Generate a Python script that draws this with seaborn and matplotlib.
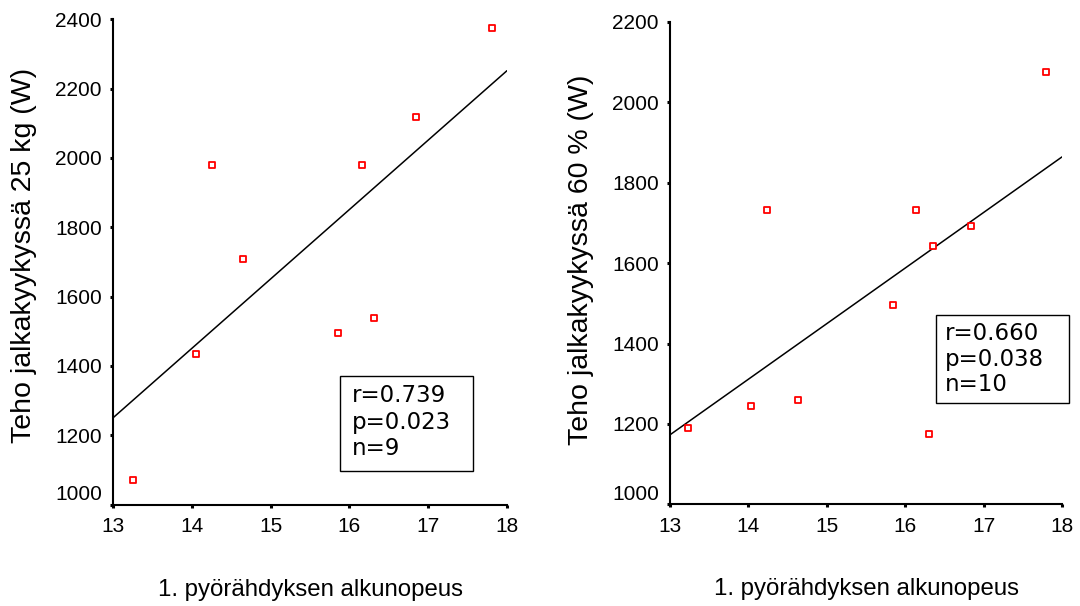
import numpy as np
import pandas as pd
import seaborn as sns
import matplotlib.pyplot as plt
from matplotlib.patches import Rectangle

# Initial speed of the first revolution vs. leg-press power
speed_25kg = [13.25, 14.05, 14.26, 14.65, 15.86, 16.16, 16.31, 16.85, 17.81]
power_25kg = [1070, 1434, 1980, 1709, 1494, 1980, 1537, 2119, 2375]

speed_60pct = [13.23, 14.03, 14.24, 14.63, 15.85, 16.14, 16.30, 16.35, 16.84, 17.79]
power_60pct = [1191, 1244, 1733, 1260, 1497, 1733, 1174, 1643, 1692, 2076]

stats_25kg = ["r=0.739", "p=0.023", "n=9"]
stats_60pct = ["r=0.660", "p=0.038", "n=10"]

x_label = "1. pyörähdyksen alkunopeus"
y_label_25kg = "Teho jalkakyykyssä 25 kg (W)"
y_label_60pct = "Teho jalkakyykyssä 60 % (W)"

x_ticks = [13, 14, 15, 16, 17, 18]
y_ticks_25kg = [1000, 1200, 1400, 1600, 1800, 2000, 2200, 2400]
y_ticks_60pct = [1000, 1200, 1400, 1600, 1800, 2000, 2200]

sns.set_style("ticks")
plt.rcParams["font.family"] = ["Liberation Sans", "DejaVu Sans"]

fig = plt.figure(figsize=(10.8, 6.06), dpi=100)
W, H = 1080, 606


def make_axes(x0, x1, ytop, ybot):
    return fig.add_axes([x0 / W, 1 - ybot / H, (x1 - x0) / W, (ybot - ytop) / H])


ax1 = make_axes(113, 507, 19.3, 504.5)
ax2 = make_axes(670, 1062, 22.0, 504.4)

panels = [
    (ax1, speed_25kg, power_25kg, y_ticks_25kg, y_label_25kg, stats_25kg,
     (0.576, 0.069, 0.338, 0.196), 0.607, [0.224, 0.169, 0.116], (-0.226, 0.514)),
    (ax2, speed_60pct, power_60pct, y_ticks_60pct, y_label_60pct, stats_60pct,
     (0.679, 0.210, 0.340, 0.183), 0.702, [0.355, 0.301, 0.248], (-0.227, 0.507)),
]

for ax, xs, ys, yt, ylab, stats, box, tx, tys, ylpos in panels:
    df = pd.DataFrame({"x": xs, "y": ys})
    ax.set_xlim(13, 18)
    ax.set_ylim(yt[0], yt[-1])
    sns.regplot(
        data=df, x="x", y="y", ax=ax, ci=None, truncate=False, marker="s",
        scatter_kws=dict(s=22, facecolor="white", edgecolor="#ff0000",
                         linewidths=1.3, alpha=1, zorder=3),
        line_kws=dict(color="black", lw=1.1, zorder=2),
    )
    ax.set_xlim(13, 18)
    ax.set_ylim(yt[0], yt[-1])
    ax.set_xticks(x_ticks)
    ax.set_yticks(yt)
    ax.tick_params(axis="both", direction="out", length=2.5, width=2.2,
                   color="black", labelsize=15, labelcolor="black")
    ax.tick_params(axis="x", pad=6.5)
    ax.tick_params(axis="y", pad=5.5)
    for side in ["top", "right"]:
        ax.spines[side].set_visible(False)
    for side in ["left", "bottom"]:
        ax.spines[side].set_color("black")
        ax.spines[side].set_linewidth(1.5)
    ax.set_facecolor("white")
    ax.set_xlabel(x_label, fontsize=17.3, va="center", color="black")
    ax.xaxis.set_label_coords(0.5, -0.176)
    ax.set_ylabel(ylab, fontsize=20.5, va="center", color="black")
    ax.yaxis.set_label_coords(*ylpos)
    # lowest y tick label sits just above the corner
    ax.get_yticklabels()[0].set_va("bottom")

    bx, by, bw, bh = box
    ax.add_patch(Rectangle((bx, by), bw, bh, transform=ax.transAxes,
                           facecolor="white", edgecolor="black", lw=1.0,
                           clip_on=False, zorder=4))
    for s, ty in zip(stats, tys):
        ax.text(tx, ty, s, transform=ax.transAxes, ha="left", va="center",
                fontsize=16.5, family="DejaVu Sans", color="black", zorder=5)

fig.savefig("out.png", dpi=100, facecolor="white")
